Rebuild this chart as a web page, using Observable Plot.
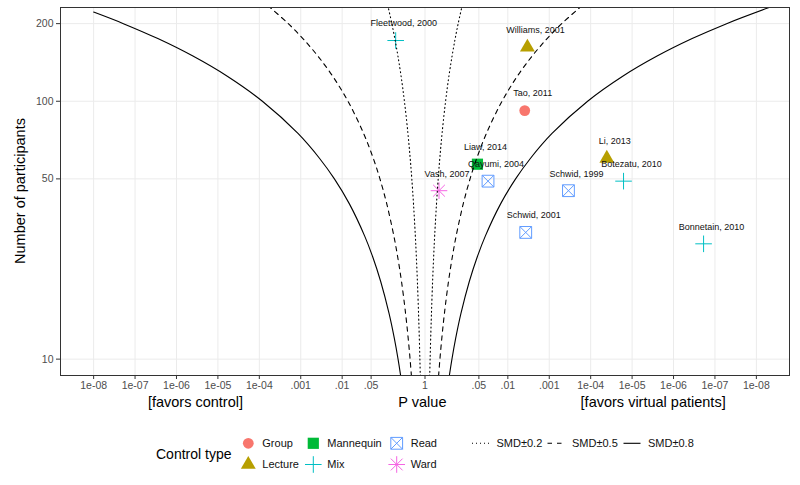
<!DOCTYPE html>
<html><head><meta charset="utf-8">
<script src="https://cdn.jsdelivr.net/npm/d3@7"></script>
<script src="https://cdn.jsdelivr.net/npm/@observablehq/plot@0.6"></script>
<style>
body{margin:0;background:#fff;font-family:"Liberation Sans",Arial,sans-serif;}
#chart{width:800px;height:485px;position:relative;overflow:hidden;background:#fff;}
#chart svg{display:block;}
</style></head><body><div id="chart"></div>
<script>
// ---- study data ----
const studies = ["Fleetwood, 2000","Williams, 2001","Tao, 2011","Liaw, 2014","Qayumi, 2004","Vash, 2007","Schwid, 1999","Li, 2013","Botezatu, 2010","Schwid, 2001","Bonnetain, 2010"];
const controlType = ["Mix","Lecture","Group","Mannequin","Read","Ward","Read","Lecture","Mix","Read","Mix"];
const pValues = [0.196, 0.00337, 0.00391, 0.0542, 0.0301, 0.459, 0.000344, 0.0000408, 0.0000161, 0.0037, 0.000000188];
const favorSide = [-1, 1, 1, 1, 1, 1, 1, 1, 1, 1, 1]; // -1 favors control, +1 favors virtual patients
const participants = [172, 162, 92, 57, 49, 45, 45, 60, 49, 31, 28];

// ---- legend / category info ----
const controlTypes = ["Group","Lecture","Mannequin","Mix","Read","Ward"];
const typeColors = ["#F8766D","#B79F00","#00BA38","#00BFC4","#619CFF","#F564E3"];
const smdLabels = ["SMD\u00b10.2","SMD\u00b10.5","SMD\u00b10.8"];

// ---- SMD contours: number of participants vs -log10(p) ----
const contourN = [8.6, 10, 12, 15, 20, 25, 30, 40, 50, 60, 75, 100, 125, 150, 175, 200, 231];
const smd02 = [0.1136, 0.1235, 0.1369, 0.1554, 0.1834, 0.2092, 0.2330, 0.2774, 0.3182, 0.3569, 0.4116, 0.4968, 0.5771, 0.6544, 0.7282, 0.8002, 0.8874];
const smd05 = [0.3277, 0.3603, 0.4047, 0.4680, 0.5670, 0.6612, 0.7510, 0.9230, 1.0877, 1.2477, 1.4815, 1.8595, 2.2277, 2.590, 2.948, 3.301, 3.738];
const smd08 = [0.5867, 0.6505, 0.7390, 0.8665, 1.0696, 1.2652, 1.4557, 1.8251, 2.1871, 2.5436, 3.0665, 3.926, 4.773, 5.614, 6.4498, 7.2814, 8.308];
// left-hand SMD 0.8 curve stops at p = 1e-08
const smd08LeftN = [8.6, 10, 12, 15, 20, 25, 30, 40, 50, 60, 75, 100, 125, 150, 175, 200, 221.7];
const smd08Left = [0.5867, 0.6505, 0.7390, 0.8665, 1.0696, 1.2652, 1.4557, 1.8251, 2.1871, 2.5436, 3.0665, 3.926, 4.773, 5.614, 6.4498, 7.2814, 8.0];

// ---- axis ticks ----
const tickP = [1e-8,1e-7,1e-6,1e-5,1e-4,0.001,0.01,0.05,1,0.05,0.01,0.001,1e-4,1e-5,1e-6,1e-7,1e-8];
const tickSide = [-1,-1,-1,-1,-1,-1,-1,-1,0,1,1,1,1,1,1,1,1];
const tickLabels = ["1e-08","1e-07","1e-06","1e-05","1e-04",".001",".01",".05","1",".05",".01",".001","1e-04","1e-05","1e-06","1e-07","1e-08"];
const yTicks = [10, 50, 100, 200];

// ---- symbols (ggplot shapes 16,17,15,3,7,8) ----
const symCircle = {draw(c){ const r=5.4; c.moveTo(r,0); c.arc(0,0,r,0,2*Math.PI); c.closePath(); }};
const symTriangle = {draw(c){ const R=8.6, w=R*Math.sqrt(3)/2; c.moveTo(0,-R); c.lineTo(w,R/2); c.lineTo(-w,R/2); c.closePath(); }};
const symSquare = {draw(c){ const h=5.6; c.moveTo(-h,-h); c.lineTo(h,-h); c.lineTo(h,h); c.lineTo(-h,h); c.closePath(); }};
const symPlus = {draw(c){ const h=8.3; c.moveTo(-h,0); c.lineTo(h,0); c.moveTo(0,-h); c.lineTo(0,h); }};
const symSquareCross = {draw(c){ const h=5.9; c.moveTo(-h,-h); c.lineTo(h,-h); c.lineTo(h,h); c.lineTo(-h,h); c.closePath(); c.moveTo(-h,-h); c.lineTo(h,h); c.moveTo(-h,h); c.lineTo(h,-h); }};
const symAsterisk = {draw(c){ const h=8.3, d=h/Math.SQRT2; c.moveTo(-h,0); c.lineTo(h,0); c.moveTo(0,-h); c.lineTo(0,h); c.moveTo(-d,-d); c.lineTo(d,d); c.moveTo(-d,d); c.lineTo(d,-d); }};
const typeSymbols = {Group: symCircle, Lecture: symTriangle, Mannequin: symSquare, Mix: symPlus, Read: symSquareCross, Ward: symAsterisk};
const filledTypes = new Set(["Group","Lecture","Mannequin"]);

// ---- build tables ----
const points = studies.map((s, i) => ({
  study: s, type: controlType[i], n: participants[i],
  x: favorSide[i] * -Math.log10(pValues[i])
}));
function curve(vals, ns, side, key){ return vals.map((v, i) => ({x: side * v, n: ns[i], key})); }
const dotted = [...curve(smd02, contourN, -1, "L"), ...curve(smd02, contourN, 1, "R")];
const dashed = [...curve(smd05, contourN, -1, "L"), ...curve(smd05, contourN, 1, "R")];
const solid = [...curve(smd08Left, smd08LeftN, -1, "L"), ...curve(smd08, contourN, 1, "R")];
const tickX = tickP.map((p, i) => tickSide[i] === 0 ? 0 : tickSide[i] * -Math.log10(p));
const tickLabelMap = new Map(tickX.map((x, i) => [x, tickLabels[i]]));

const W = 800, H = 412;
const marks = [
  Plot.gridX(tickX, {stroke: "#ebebeb", strokeOpacity: 1, strokeWidth: 1}),
  Plot.gridY(yTicks, {stroke: "#ebebeb", strokeOpacity: 1, strokeWidth: 1}),
];
controlTypes.forEach(t => {
  const data = points.filter(d => d.type === t);
  if (filledTypes.has(t)) {
    marks.push(Plot.dot(data, {x: "x", y: "n", fill: "type", stroke: "none", symbol: typeSymbols[t], r: 5}));
  } else {
    marks.push(Plot.dot(data, {x: "x", y: "n", stroke: "type", fill: "none", strokeWidth: 1, symbol: typeSymbols[t], r: 5}));
  }
});
marks.push(
  Plot.line(dotted, {x: "x", y: "n", z: "key", stroke: "#000", strokeWidth: 1.1, strokeDasharray: "1,3", curve: "catmull-rom", clip: "frame"}),
  Plot.line(dashed, {x: "x", y: "n", z: "key", stroke: "#000", strokeWidth: 1.1, strokeDasharray: "4.5,4.5", curve: "catmull-rom", clip: "frame"}),
  Plot.line(solid, {x: "x", y: "n", z: "key", stroke: "#000", strokeWidth: 1.1, curve: "catmull-rom", clip: "frame"}),
  Plot.text(points, {x: "x", y: "n", text: "study", dx: 8, dy: -17, fontSize: 9, fill: "#111"}),
  Plot.axisX(tickX, {tickFormat: d => tickLabelMap.get(d), tickSize: 4, tickPadding: 2, fontSize: 10.5, stroke: "#333", fill: "#4d4d4d", label: null}),
  Plot.axisY(yTicks, {tickFormat: d => String(d), tickSize: 4, tickPadding: 3, fontSize: 10.5, stroke: "#333", fill: "#4d4d4d", label: null}),
  Plot.frame({stroke: "#333", strokeWidth: 1})
);

const plot = Plot.plot({
  width: W, height: H,
  marginLeft: 60, marginRight: 11, marginTop: 7, marginBottom: 37,
  style: {fontFamily: '"Liberation Sans", Arial, sans-serif', background: "#fff", overflow: "visible"},
  x: {type: "linear", domain: [-8.8, 8.8]},
  y: {type: "log", domain: [8.64, 231]},
  color: {domain: controlTypes, range: typeColors},
  marks
});
document.getElementById("chart").appendChild(plot);

// axis titles
const xs = plot.scale("x"), ys = plot.scale("y");
const svg = d3.select(plot);
const titleFont = '"Liberation Sans", Arial, sans-serif';
[["[favors control]", -5.53], ["P value", -0.05], ["[favors virtual patients]", 5.52]].forEach(([t, v]) => {
  svg.append("text").attr("x", xs.apply(v)).attr("y", 407).attr("text-anchor", "middle")
    .attr("font-size", 14.5).attr("font-family", titleFont).attr("fill", "#000").text(t);
});
const yMid = (ys.apply(231) + ys.apply(8.64)) / 2;
svg.append("text").attr("transform", `translate(25,${yMid}) rotate(-90)`).attr("text-anchor", "middle")
  .attr("font-size", 14.5).attr("font-family", titleFont).attr("fill", "#000").text("Number of participants");

// ---- legend below the plot ----
const leg = d3.select("#chart").append("svg").attr("width", W).attr("height", 485 - H)
  .style("font-family", titleFont);
const legTop = H;
leg.append("text").attr("x", 156).attr("y", 454.3 - legTop).attr("dy", "0.35em").attr("font-size", 14).attr("fill", "#000").text("Control type");
const colX = [248.3, 313.3, 396.7];
const rowY = [443.3, 464.5];
controlTypes.forEach((t, i) => {
  const col = Math.floor(i / 2), row = i % 2;
  const cx = colX[col], cy = rowY[row] - legTop;
  const p = d3.path(); typeSymbols[t].draw(p);
  const g = leg.append("path").attr("d", p.toString()).attr("transform", `translate(${cx},${cy})`);
  if (filledTypes.has(t)) g.attr("fill", typeColors[i]).attr("stroke", "none");
  else g.attr("fill", "none").attr("stroke", typeColors[i]).attr("stroke-width", 1);
  leg.append("text").attr("x", cx + 14).attr("y", cy).attr("dy", "0.35em").attr("font-size", 11).attr("fill", "#111").text(t);
});
const lineKeys = [[472, "1,3"], [547.5, "4.5,5"], [623.5, null]];
smdLabels.forEach((lab, i) => {
  const [x0, dash] = lineKeys[i];
  const y = rowY[0] - legTop;
  const l = leg.append("line").attr("x1", x0).attr("x2", x0 + 17).attr("y1", y).attr("y2", y).attr("stroke", "#000").attr("stroke-width", 1.1);
  if (dash) l.attr("stroke-dasharray", dash);
  leg.append("text").attr("x", x0 + 24.5).attr("y", y).attr("dy", "0.35em").attr("font-size", 11).attr("fill", "#111").text(lab);
});
</script></body></html>
